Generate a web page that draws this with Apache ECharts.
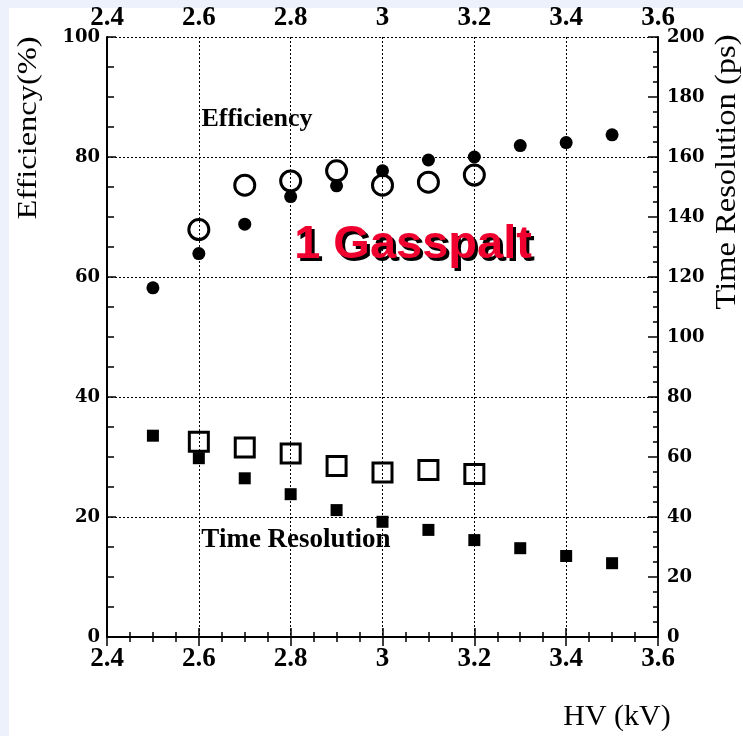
<!DOCTYPE html>
<html>
<head>
<meta charset="utf-8">
<script src="https://cdn.jsdelivr.net/npm/echarts@6/dist/echarts.min.js"></script>
<style>
html,body{margin:0;padding:0;background:#ffffff;}
#c{width:743px;height:736px;}
</style>
</head>
<body>
<div id="c"></div>
<script>
// HV values (kV)
const hvAll = [2.5, 2.6, 2.7, 2.8, 2.9, 3.0, 3.1, 3.2, 3.3, 3.4, 3.5];
const hvOpen = [2.6, 2.7, 2.8, 2.9, 3.0, 3.1, 3.2];
// Efficiency (%)
const effFilled = [58.2, 63.9, 68.8, 73.4, 75.2, 77.7, 79.5, 80.0, 81.9, 82.4, 83.7];
const effOpen = [67.9, 75.3, 76.0, 77.7, 75.3, 75.8, 77.0];
// Time resolution (ps)
const trFilled = [67.1, 59.6, 52.9, 47.6, 42.3, 38.4, 35.7, 32.3, 29.6, 27.0, 24.6];
const trOpen = [65.1, 63.2, 61.2, 57.0, 54.8, 55.7, 54.3];

const pairs = (xs, ys) => xs.map((x, i) => [x, ys[i]]);

const chart = echarts.init(document.getElementById('c'), null, {renderer: 'canvas'});

const axisLine = {show: true, lineStyle: {color: '#000', width: 2}};
const xLabel = {color: '#000', fontFamily: 'Liberation Serif', fontWeight: 'bold', fontSize: 27,
  formatter: v => String(Math.round(v * 10) / 10)};
const yLabel = {color: '#000', fontFamily: 'DejaVu Serif', fontWeight: 'bold', fontSize: 18};
const dotted = {color: '#000', width: 1, type: [2, 2]};
const tickStyle = {color: '#000', width: 1.5};

const option = {
  backgroundColor: '#ffffff',
  animation: false,
  grid: {left: 107, right: 85, top: 37, bottom: 99, containLabel: false},
  xAxis: [
    {type: 'value', position: 'bottom', min: 2.4, max: 3.6, interval: 0.2,
     axisLine: axisLine,
     axisTick: {show: true, inside: true, length: 9, lineStyle: tickStyle},
     minorTick: {show: true, splitNumber: 4, length: 5, lineStyle: tickStyle},
     axisLabel: Object.assign({margin: 9}, xLabel),
     splitLine: {show: true, lineStyle: dotted}},
    {type: 'value', position: 'top', min: 2.4, max: 3.6, interval: 0.2,
     axisLine: axisLine,
     axisTick: {show: true, inside: true, length: 9, lineStyle: tickStyle},
     minorTick: {show: true, splitNumber: 4, length: 5, lineStyle: tickStyle},
     axisLabel: Object.assign({margin: 5}, xLabel),
     splitLine: {show: false}}
  ],
  yAxis: [
    {type: 'value', position: 'left', min: 0, max: 100, interval: 20,
     axisLine: axisLine,
     axisTick: {show: true, inside: true, length: 9, lineStyle: tickStyle},
     minorTick: {show: true, splitNumber: 4, length: 7, lineStyle: tickStyle},
     axisLabel: Object.assign({margin: 7}, yLabel),
     splitLine: {show: true, lineStyle: dotted}},
    {type: 'value', position: 'right', min: 0, max: 200, interval: 20,
     axisLine: axisLine,
     axisTick: {show: true, inside: true, length: 10, lineStyle: tickStyle},
     minorTick: {show: true, splitNumber: 4, length: 5, lineStyle: tickStyle},
     axisLabel: Object.assign({margin: 9}, yLabel),
     splitLine: {show: false}}
  ],
  series: [
    {type: 'scatter', xAxisIndex: 0, yAxisIndex: 0, data: pairs(hvAll, effFilled),
     symbol: 'circle', symbolSize: 13, itemStyle: {color: '#000', opacity: 1}, z: 3},
    {type: 'scatter', xAxisIndex: 0, yAxisIndex: 0, data: pairs(hvOpen, effOpen),
     symbol: 'circle', symbolSize: 20, itemStyle: {color: 'rgba(0,0,0,0)', borderColor: '#000', borderWidth: 3, opacity: 1}, z: 4},
    {type: 'scatter', xAxisIndex: 0, yAxisIndex: 1, data: pairs(hvAll, trFilled),
     symbol: 'rect', symbolSize: 12, itemStyle: {color: '#000', opacity: 1}, z: 3},
    {type: 'scatter', xAxisIndex: 0, yAxisIndex: 1, data: pairs(hvOpen, trOpen),
     symbol: 'rect', symbolSize: 19, itemStyle: {color: 'rgba(0,0,0,0)', borderColor: '#000', borderWidth: 3, opacity: 1}, z: 4}
  ],
  graphic: [
    {type: 'rect', left: 0, top: 0, shape: {width: 9, height: 736}, style: {fill: '#edf1fb'}, z: 0},
    {type: 'rect', left: 0, top: 0, shape: {width: 743, height: 8}, style: {fill: '#edf1fb'}, z: 0},
    {type: 'text', x: 29, y: 128, rotation: Math.PI / 2, scaleX: 1.2,
     style: {text: 'Efficiency(%)', font: '27px "Liberation Serif"', fill: '#000', textAlign: 'center', textVerticalAlign: 'middle'}},
    {type: 'text', x: 727, y: 172, rotation: Math.PI / 2, scaleX: 1.12,
     style: {text: 'Time Resolution (ps)', font: '29px "Liberation Serif"', fill: '#000', textAlign: 'center', textVerticalAlign: 'middle'}},
    {type: 'text', x: 617, y: 717,
     style: {text: 'HV (kV)', font: '30px "Liberation Serif"', fill: '#000', textAlign: 'center', textVerticalAlign: 'middle'}},
    {type: 'text', x: 257, y: 119,
     style: {text: 'Efficiency', font: 'bold 26px "Liberation Serif"', fill: '#000', textAlign: 'center', textVerticalAlign: 'middle'}},
    {type: 'text', x: 296, y: 540,
     style: {text: 'Time Resolution', font: 'bold 27px "Liberation Serif"', fill: '#000', textAlign: 'center', textVerticalAlign: 'middle'}},
    {type: 'text', x: 416, y: 248, z: 10,
     style: {text: '1 Gasspalt', font: 'bold 47px "Liberation Sans"', fill: '#000', textAlign: 'center', textVerticalAlign: 'middle'}},
    {type: 'text', x: 413, y: 245, z: 11,
     style: {text: '1 Gasspalt', font: 'bold 47px "Liberation Sans"', fill: '#f0002e', textAlign: 'center', textVerticalAlign: 'middle'}}
  ]
};
chart.setOption(option);
</script>
</body>
</html>
